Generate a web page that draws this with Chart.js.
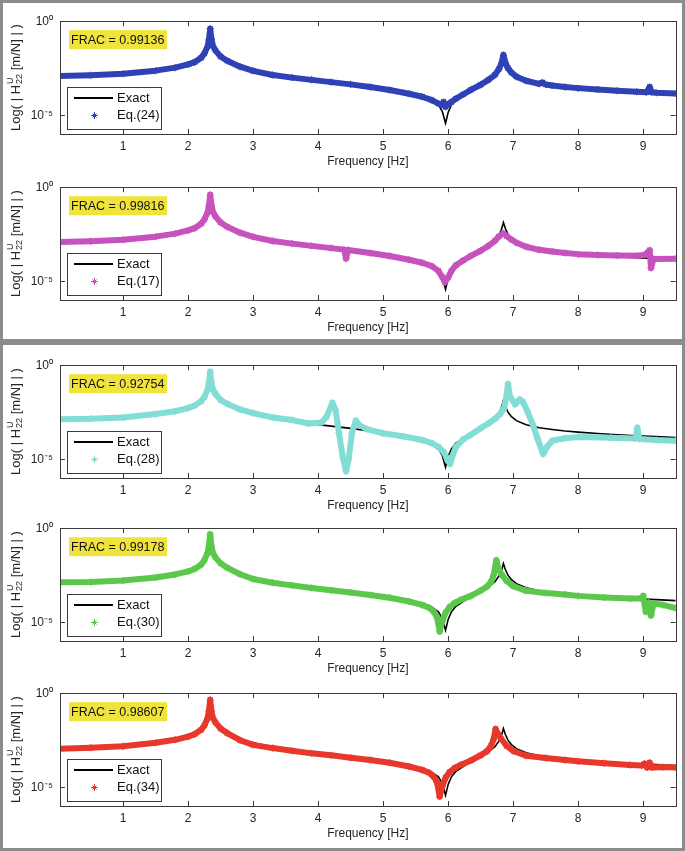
<!DOCTYPE html>
<html>
<head>
<meta charset="utf-8">
<script src="https://cdn.jsdelivr.net/npm/chart.js@4/dist/chart.umd.min.js"></script>
<style>
  body { margin: 0; background: #fff; }
  #wrap { position: relative; width: 685px; height: 851px; background: #fff; }
  .frame { position: absolute; left: 0; width: 685px; box-sizing: border-box; border: 3px solid #8c8c8c; }
  canvas { position: absolute; left: 4px; }
</style>
</head>
<body>
<div id="wrap">
  <div class="frame" style="top:0;height:342px"></div>
  <div class="frame" style="top:342px;height:509px"></div>
  <canvas id="c0" width="677" height="163" style="top:7px"></canvas>
  <canvas id="c1" width="677" height="163" style="top:173px"></canvas>
  <canvas id="c2" width="677" height="163" style="top:351px"></canvas>
  <canvas id="c3" width="677" height="163" style="top:514px"></canvas>
  <canvas id="c4" width="677" height="163" style="top:679px"></canvas>
</div>
<script>
// values are log10 |H22|, frequencies in Hz
const freqExact = [0.03, 0.5, 1.0, 1.5, 1.8, 2.0, 2.1, 2.2, 2.25, 2.3, 2.32, 2.34, 2.36, 2.38, 2.42, 2.5, 2.6, 2.8, 3.0, 3.3, 3.6, 3.9, 4.2, 4.5, 4.8, 5.1, 5.4, 5.6, 5.75, 5.85, 5.91, 5.96, 6.0, 6.05, 6.12, 6.23, 6.35, 6.5, 6.62, 6.72, 6.78, 6.82, 6.85, 6.88, 6.92, 6.97, 7.05, 7.2, 7.4, 7.6, 7.8, 8.0, 8.3, 8.6, 8.9, 9.2, 9.5];
const hExact = [-2.92, -2.88, -2.80, -2.63, -2.47, -2.30, -2.18, -1.95, -1.72, -1.35, -1.05, -0.55, -1.0, -1.3, -1.55, -1.88, -2.1, -2.42, -2.64, -2.86, -3.0, -3.12, -3.24, -3.36, -3.5, -3.66, -3.86, -4.02, -4.2, -4.45, -4.8, -5.43, -4.85, -4.45, -4.15, -3.9, -3.65, -3.38, -3.12, -2.85, -2.55, -2.25, -1.88, -2.2, -2.5, -2.72, -2.95, -3.17, -3.33, -3.42, -3.5, -3.56, -3.63, -3.70, -3.75, -3.8, -3.85];

const freq24 = [0.03, 0.5, 1.0, 1.5, 1.8, 2.0, 2.1, 2.2, 2.25, 2.3, 2.32, 2.34, 2.36, 2.38, 2.42, 2.5, 2.6, 2.8, 3.0, 3.3, 3.6, 3.9, 4.2, 4.5, 4.8, 5.1, 5.4, 5.6, 5.75, 5.85, 5.91, 5.93, 5.96, 6.0, 6.05, 6.12, 6.23, 6.35, 6.5, 6.62, 6.72, 6.78, 6.82, 6.85, 6.88, 6.92, 6.97, 7.05, 7.2, 7.4, 7.45, 7.5, 7.6, 7.8, 8.0, 8.3, 8.6, 8.9, 9.05, 9.1, 9.13, 9.2, 9.5];
const eq24 = [-2.92, -2.88, -2.80, -2.63, -2.47, -2.30, -2.18, -1.95, -1.72, -1.35, -1.0, -0.4, -0.95, -1.3, -1.55, -1.88, -2.1, -2.42, -2.64, -2.86, -3.0, -3.12, -3.24, -3.36, -3.5, -3.66, -3.86, -4.02, -4.2, -4.38, -4.45, -4.3, -4.55, -4.42, -4.3, -4.12, -3.9, -3.65, -3.38, -3.12, -2.85, -2.55, -2.25, -1.8, -2.2, -2.5, -2.72, -2.95, -3.17, -3.33, -3.26, -3.37, -3.42, -3.5, -3.56, -3.63, -3.70, -3.75, -3.78, -3.5, -3.78, -3.8, -3.85];

const freq17 = [0.03, 0.5, 1.0, 1.5, 1.8, 2.0, 2.1, 2.2, 2.25, 2.3, 2.32, 2.34, 2.36, 2.38, 2.42, 2.5, 2.6, 2.8, 3.0, 3.3, 3.6, 3.9, 4.2, 4.4, 4.43, 4.46, 4.8, 5.1, 5.4, 5.6, 5.75, 5.85, 5.91, 5.95, 6.0, 6.05, 6.12, 6.23, 6.35, 6.5, 6.62, 6.72, 6.78, 6.85, 6.9, 6.97, 7.05, 7.2, 7.4, 7.6, 7.8, 8.0, 8.3, 8.6, 8.9, 9.02, 9.1, 9.12, 9.16, 9.5];
const eq17 = [-2.92, -2.88, -2.80, -2.63, -2.47, -2.30, -2.18, -1.95, -1.72, -1.35, -1.0, -0.4, -0.95, -1.3, -1.55, -1.88, -2.1, -2.42, -2.64, -2.86, -3.0, -3.12, -3.24, -3.32, -3.8, -3.34, -3.5, -3.66, -3.86, -4.02, -4.2, -4.45, -4.78, -5.05, -4.8, -4.45, -4.15, -3.9, -3.65, -3.38, -3.12, -2.85, -2.62, -2.45, -2.6, -2.78, -2.95, -3.17, -3.33, -3.42, -3.5, -3.56, -3.6, -3.63, -3.65, -3.6, -3.35, -4.3, -3.82, -3.8];

const freq28 = [0.03, 0.5, 1.0, 1.5, 1.8, 2.0, 2.1, 2.2, 2.25, 2.3, 2.32, 2.34, 2.36, 2.38, 2.42, 2.5, 2.6, 2.8, 3.0, 3.3, 3.6, 3.85, 4.05, 4.13, 4.22, 4.27, 4.32, 4.38, 4.43, 4.47, 4.52, 4.58, 4.64, 4.75, 5.0, 5.3, 5.6, 5.75, 5.85, 5.93, 5.98, 6.03, 6.07, 6.12, 6.23, 6.35, 6.5, 6.62, 6.72, 6.8, 6.86, 6.9, 6.92, 6.95, 7.03, 7.1, 7.15, 7.22, 7.3, 7.38, 7.46, 7.52, 7.6, 7.8, 8.0, 8.5, 8.88, 8.91, 8.94, 9.2, 9.5];
const eq28 = [-2.87, -2.85, -2.78, -2.6, -2.45, -2.28, -2.15, -1.92, -1.7, -1.3, -0.95, -0.35, -0.95, -1.28, -1.52, -1.85, -2.05, -2.35, -2.55, -2.78, -2.92, -3.1, -3.05, -2.75, -2.0, -2.4, -3.6, -4.9, -5.65, -5.0, -3.6, -2.95, -3.2, -3.4, -3.62, -3.78, -3.98, -4.15, -4.35, -4.6, -4.95, -5.25, -4.8, -4.35, -3.95, -3.7, -3.35, -3.1, -2.85, -2.6, -2.3, -1.6, -1.0, -1.65, -2.08, -1.82, -1.95, -2.45, -3.14, -3.95, -4.72, -4.35, -4.02, -3.88, -3.82, -3.86, -3.9, -3.32, -3.92, -3.98, -4.02];

const freq30 = [0.03, 0.5, 1.0, 1.5, 1.8, 2.0, 2.1, 2.2, 2.25, 2.3, 2.32, 2.34, 2.36, 2.38, 2.42, 2.5, 2.6, 2.8, 3.0, 3.3, 3.6, 3.9, 4.2, 4.5, 4.8, 5.1, 5.4, 5.6, 5.7, 5.78, 5.83, 5.87, 5.91, 5.96, 6.02, 6.1, 6.2, 6.35, 6.5, 6.6, 6.66, 6.7, 6.74, 6.78, 6.83, 6.9, 7.0, 7.2, 7.5, 7.8, 8.0, 8.4, 8.8, 8.97, 9.0, 9.04, 9.08, 9.12, 9.16, 9.3, 9.5];
const eq30 = [-2.88, -2.86, -2.78, -2.62, -2.46, -2.3, -2.17, -1.94, -1.7, -1.32, -0.95, -0.32, -0.95, -1.3, -1.55, -1.87, -2.1, -2.45, -2.7, -2.9, -3.04, -3.18, -3.3, -3.42, -3.55, -3.7, -3.9, -4.08, -4.22, -4.45, -4.75, -5.5, -4.95, -4.5, -4.2, -3.98, -3.8, -3.6, -3.32, -3.1, -2.85, -2.5, -1.7, -2.2, -2.5, -2.8, -3.08, -3.33, -3.45, -3.53, -3.6, -3.68, -3.74, -3.72, -3.6, -4.45, -3.95, -4.65, -4.0, -4.08, -4.25];

const freq34 = [0.03, 0.5, 1.0, 1.5, 1.8, 2.0, 2.1, 2.2, 2.25, 2.3, 2.32, 2.34, 2.36, 2.38, 2.42, 2.5, 2.6, 2.8, 3.0, 3.3, 3.6, 3.9, 4.2, 4.5, 4.8, 5.1, 5.4, 5.6, 5.7, 5.78, 5.83, 5.87, 5.91, 5.96, 6.02, 6.1, 6.2, 6.35, 6.5, 6.6, 6.66, 6.7, 6.73, 6.77, 6.82, 6.9, 7.0, 7.2, 7.5, 7.8, 8.0, 8.4, 8.8, 8.98, 9.02, 9.06, 9.1, 9.14, 9.3, 9.5];
const eq34 = [-2.95, -2.9, -2.82, -2.64, -2.48, -2.31, -2.18, -1.95, -1.72, -1.33, -0.95, -0.35, -0.95, -1.3, -1.55, -1.88, -2.12, -2.5, -2.75, -2.92, -3.06, -3.2, -3.3, -3.43, -3.55, -3.7, -3.9, -4.08, -4.22, -4.45, -4.75, -5.5, -4.95, -4.5, -4.2, -3.98, -3.8, -3.58, -3.3, -3.08, -2.8, -2.45, -1.9, -2.2, -2.45, -2.8, -3.07, -3.33, -3.45, -3.55, -3.62, -3.72, -3.82, -3.85, -3.75, -3.95, -3.7, -3.95, -3.92, -3.95];

const eqLabels = ['Eq.(24)', 'Eq.(17)', 'Eq.(28)', 'Eq.(30)', 'Eq.(34)'];
const fracValues = ['0.99136', '0.99816', '0.92754', '0.99178', '0.98607'];
const eqColors = ['#2e42b5', '#c653bd', '#82ddd5', '#5bc84b', '#e8372b'];
const xTicks = [1, 2, 3, 4, 5, 6, 7, 8, 9];
const yTicks = [1e-5, 1];

const eqFreqs = [freq24, freq17, freq28, freq30, freq34];
const eqVals = [eq24, eq17, eq28, eq30, eq34];

Chart.defaults.font.family = '"Liberation Sans", Arial, Helvetica, sans-serif';
Chart.defaults.font.size = 12;
Chart.defaults.color = '#262626';

function toPoints(freq, logVals) {
  return freq.map((f, i) => ({ x: f, y: Math.pow(10, logVals[i]) }));
}

// axes box with inward ticks, FRAC label, legend
const decor = {
  id: 'decor',
  afterDatasetsDraw(chart, args, opts) {
    const ctx = chart.ctx;
    const a = chart.chartArea;
    ctx.save();
    ctx.strokeStyle = '#3a3a3a';
    ctx.lineWidth = 1;
    ctx.strokeRect(Math.round(a.left) + 0.5, Math.round(a.top) + 0.5, Math.round(a.right - a.left), Math.round(a.bottom - a.top));
    ctx.beginPath();
    chart.scales.x.ticks.forEach(t => {
      const px = Math.round(chart.scales.x.getPixelForValue(t.value)) + 0.5;
      ctx.moveTo(px, a.bottom); ctx.lineTo(px, a.bottom - 5);
      ctx.moveTo(px, a.top); ctx.lineTo(px, a.top + 5);
    });
    chart.scales.y.ticks.forEach(t => {
      const py = Math.round(chart.scales.y.getPixelForValue(t.value)) + 0.5;
      ctx.moveTo(a.left, py); ctx.lineTo(a.left + 5, py);
      ctx.moveTo(a.right, py); ctx.lineTo(a.right - 5, py);
    });
    ctx.stroke();

    // FRAC box
    const fx = a.left + 9, fy = a.top + 9;
    ctx.fillStyle = '#f0e43c';
    ctx.fillRect(fx, fy, 98, 19);
    ctx.fillStyle = '#111';
    ctx.font = '12.5px "Liberation Sans", Arial, sans-serif';
    ctx.textBaseline = 'middle';
    ctx.textAlign = 'left';
    ctx.fillText('FRAC = ' + opts.frac, fx + 2, fy + 10);

    // legend
    const ds = chart.data.datasets;
    const bx = Math.round(a.left + 7), by = Math.round(a.bottom - 47);
    ctx.fillStyle = '#fff';
    ctx.fillRect(bx, by, 94, 42);
    ctx.strokeStyle = '#3a3a3a';
    ctx.lineWidth = 1;
    ctx.strokeRect(bx + 0.5, by + 0.5, 94, 42);
    ctx.strokeStyle = '#000';
    ctx.lineWidth = 2;
    ctx.beginPath();
    ctx.moveTo(bx + 7, by + 11); ctx.lineTo(bx + 46, by + 11);
    ctx.stroke();
    ctx.font = '13px "Liberation Sans", Arial, sans-serif';
    ctx.fillStyle = '#111';
    ctx.fillText(ds[0].label, bx + 50, by + 11);
    ctx.fillText(ds[1].label, bx + 50, by + 28);
    const mx = bx + 27.5, my = by + 28.5, r = 3.5;
    ctx.strokeStyle = ds[1].borderColor;
    ctx.lineWidth = 1;
    ctx.beginPath();
    ctx.moveTo(mx - r, my); ctx.lineTo(mx + r, my);
    ctx.moveTo(mx, my - r); ctx.lineTo(mx, my + r);
    ctx.moveTo(mx - 2, my - 2); ctx.lineTo(mx + 2, my + 2);
    ctx.moveTo(mx - 2, my + 2); ctx.lineTo(mx + 2, my - 2);
    ctx.stroke();
    ctx.restore();
  },
  afterDraw(chart) {
    // rotated y title with stacked super/subscript
    const ctx = chart.ctx;
    const a = chart.chartArea;
    const pre = 'Log( | H', post = ' [m/N] | )';
    const big = '13px "Liberation Sans", Arial, sans-serif';
    const small = '9px "Liberation Sans", Arial, sans-serif';
    ctx.save();
    ctx.translate(a.left - 44, (a.top + a.bottom) / 2);
    ctx.rotate(-Math.PI / 2);
    ctx.fillStyle = '#262626';
    ctx.textBaseline = 'middle';
    ctx.textAlign = 'left';
    ctx.font = big;
    const w1 = ctx.measureText(pre).width, w3 = ctx.measureText(post).width;
    ctx.font = small;
    const w2 = Math.max(ctx.measureText('U').width, ctx.measureText('22').width) + 1;
    let x = -(w1 + w2 + w3) / 2;
    ctx.font = big;
    ctx.fillText(pre, x, 0);
    x += w1;
    ctx.font = small;
    ctx.fillText('U', x + 1, -5);
    ctx.fillText('22', x + 1, 4);
    x += w2;
    ctx.font = big;
    ctx.fillText(post, x, 0);
    ctx.restore();
  }
};

function makePanel(idx) {
  const color = eqColors[idx];
  new Chart(document.getElementById('c' + idx), {
    type: 'scatter',
    data: {
      datasets: [
        {
          label: 'Exact',
          data: toPoints(freqExact, hExact),
          showLine: true,
          borderColor: '#000',
          borderWidth: 1.6,
          pointRadius: 0,
          order: 2,
          clip: 0
        },
        {
          label: eqLabels[idx],
          data: toPoints(eqFreqs[idx], eqVals[idx]),
          showLine: true,
          borderColor: color,
          backgroundColor: color,
          borderWidth: 6,
          borderJoinStyle: 'round',
          borderCapStyle: 'round',
          pointStyle: 'star',
          pointRadius: 3.5,
          pointBorderWidth: 1.3,
          pointBorderColor: color,
          order: 1,
          clip: 0
        }
      ]
    },
    options: {
      responsive: false,
      animation: false,
      devicePixelRatio: 1,
      layout: { padding: { top: 12, right: 5, left: 0, bottom: 0 } },
      plugins: {
        legend: { display: false },
        tooltip: { enabled: false },
        decor: { frac: fracValues[idx] }
      },
      scales: {
        x: {
          type: 'linear',
          min: 0.03,
          max: 9.5,
          afterBuildTicks: s => { s.ticks = xTicks.map(v => ({ value: v })); },
          afterFit: s => { s.height = 36; },
          grid: { display: false, drawTicks: false },
          border: { display: false },
          ticks: { padding: 5, maxRotation: 0, font: { size: 12 } },
          title: { display: true, text: 'Frequency [Hz]', font: { size: 12 }, padding: { top: 3, bottom: 1 } }
        },
        y: {
          type: 'logarithmic',
          min: 1e-6,
          max: 1,
          afterBuildTicks: s => { s.ticks = yTicks.map(v => ({ value: v })); },
          afterFit: s => { s.width = 56; },
          grid: { display: false, drawTicks: false },
          border: { display: false },
          ticks: {
            padding: 7,
            font: { size: 12 },
            callback: v => (v === 1 ? '10\u2070' : '10\u207B\u2075')
          }
        }
      }
    },
    plugins: [decor]
  });
}

for (let i = 0; i < 5; i++) makePanel(i);
</script>
</body>
</html>
